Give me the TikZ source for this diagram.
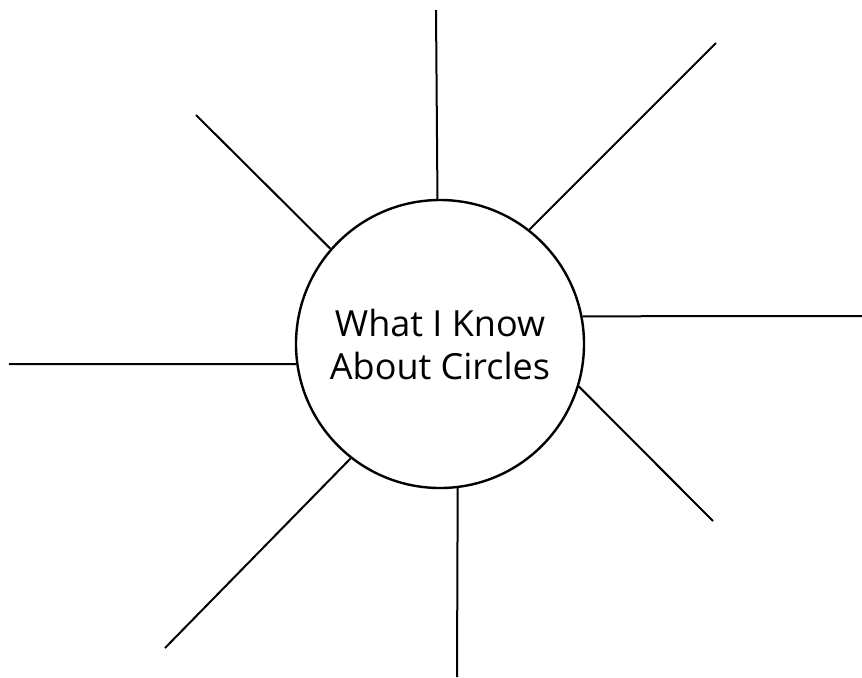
\documentclass[tikz,border=0pt]{standalone}
\usepackage{fontspec}
\setsansfont{Open Sans}

\begin{document}
\begin{tikzpicture}[x=0.5pt, y=-0.5pt,
    ray/.style={line width=1pt},
    hub/.style={circle, draw, line width=1.2pt, minimum size=144pt,
                inner sep=0pt, align=center,
                font=\sffamily\fontsize{18}{21.5}\selectfont}]
    \useasboundingbox (0,0) rectangle (862,677);
    \node[hub] (hub) at (440,344) {What I Know\\About Circles};
    \foreach \ang/\x/\y [count=\i] in {91.6/436/10, 52/716/43, 11/862/316,
                                       -17/713/521, -83.3/457/677, 232.2/165/648,
                                       188/9/364, 139.5/196/115} {
      \coordinate (tip\i) at (\x,\y);
      \draw[ray] (hub.\ang) -- (tip\i);
    }
\end{tikzpicture}
\end{document}
